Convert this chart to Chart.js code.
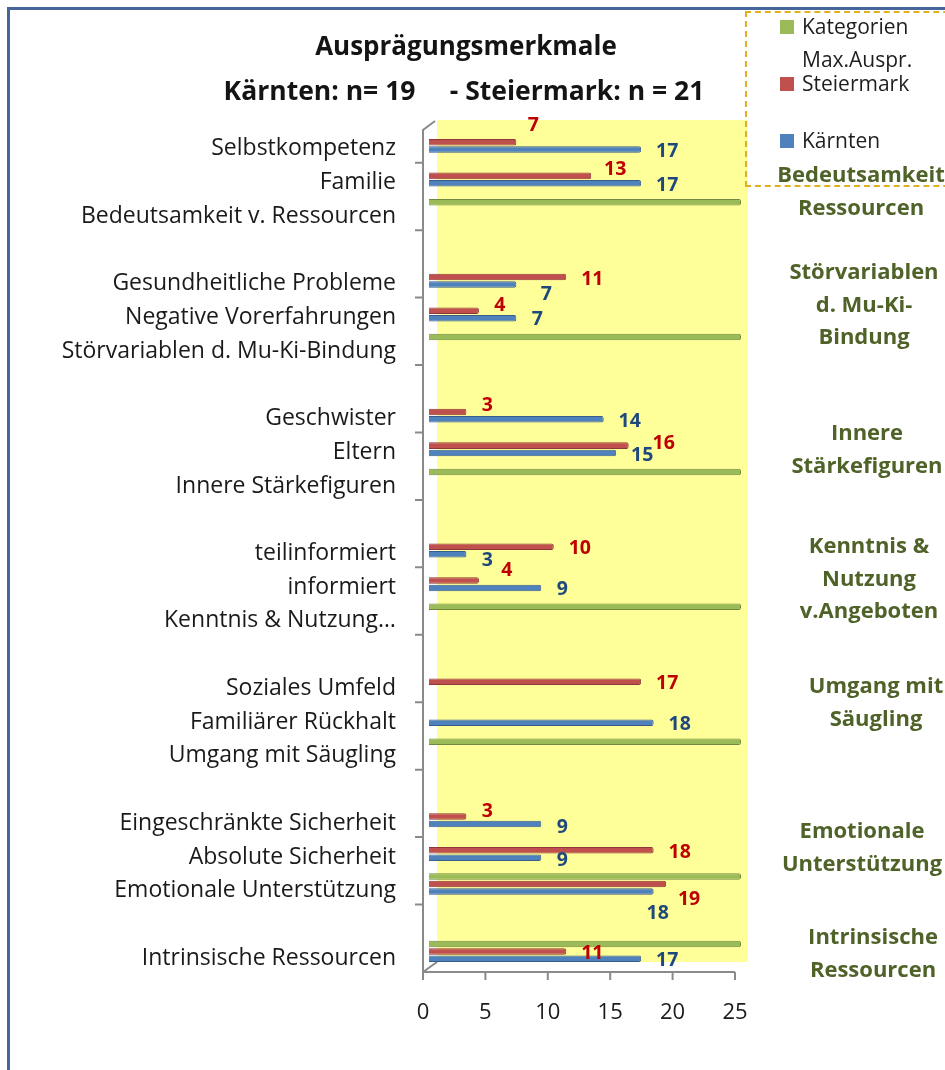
<!DOCTYPE html>
<html>
<head>
<meta charset="utf-8">
<script src="https://cdn.jsdelivr.net/npm/chart.js@4.4.1/dist/chart.umd.min.js"></script>
<style>
  body { margin: 0; background: #fff; font-family: 'Open Sans', sans-serif; }
  #wrap { position: relative; width: 945px; height: 1070px; overflow: hidden; background: #fff; }
  #frame { position: absolute; left: 7px; top: 7px; width: 960px; height: 1090px; border-top: 3px solid #46659a; border-left: 3px solid #46659a; }
  #chart01 { position: absolute; left: 0; top: 0; }
  #legend { position: absolute; left: 745px; top: 11px; width: 220px; height: 172px; border: 2px dashed #e0b020; }
  .legItem { position: absolute; left: 0; line-height: 33px; font-size: 21px; color: #1e1e1e; }
  .legBox { position: absolute; left: 33px; top: 10px; width: 14px; height: 14px; }
  .legText { position: absolute; left: 55px; top: 0; width: 125px; }
</style>
</head>
<body>
<div id="wrap">
  <div id="frame"></div>
  <canvas id="chart01" width="945" height="1070"></canvas>
  <div id="legend"></div>
</div>
<script>
// categories from top to bottom, '' = empty spacer row
const categories = [
    'Selbstkompetenz', 'Familie', 'Bedeutsamkeit v. Ressourcen', '',
    'Gesundheitliche Probleme', 'Negative Vorerfahrungen', 'Störvariablen d. Mu-Ki-Bindung', '',
    'Geschwister', 'Eltern', 'Innere Stärkefiguren', '',
    'teilinformiert', 'informiert', 'Kenntnis & Nutzung…', '',
    'Soziales Umfeld', 'Familiärer Rückhalt', 'Umgang mit Säugling', '',
    'Eingeschränkte Sicherheit', 'Absolute Sicherheit', 'Emotionale Unterstützung', '',
    'Intrinsische Ressourcen'
];
const maxAuspr = [
    null, null, 25, null,
    null, null, 25, null,
    null, null, 25, null,
    null, null, 25, null,
    null, null, 25, null,
    null, null, 25, null,
    25
];
const steiermark = [
    7, 13, null, null,
    11, 4, null, null,
    3, 16, null, null,
    10, 4, null, null,
    17, null, null, null,
    3, 18, 19, null,
    11
];
const kaernten = [
    17, 17, null, null,
    7, 7, null, null,
    14, 15, null, null,
    3, 9, null, null,
    null, 18, null, null,
    9, 9, 18, null,
    17
];
const xTicks = [0, 5, 10, 15, 20, 25];

const titleLines = ['Ausprägungsmerkmale', 'Kärnten: n= 19     - Steiermark: n = 21'];

// text boxes on the right side
const groupNotes = [
    { lines: ['Bedeutsamkeit', 'Ressourcen'], x: 861, y: 176 },
    { lines: ['Störvariablen', 'd. Mu-Ki-', 'Bindung'], x: 864, y: 273 },
    { lines: ['Innere', 'Stärkefiguren'], x: 867, y: 434 },
    { lines: ['Kenntnis &', 'Nutzung', 'v.Angeboten'], x: 869, y: 547 },
    { lines: ['Umgang mit', 'Säugling'], x: 876, y: 687 },
    { lines: ['Emotionale', 'Unterstützung'], x: 862, y: 832 },
    { lines: ['Intrinsische', 'Ressourcen'], x: 873, y: 938 }
];

// manual shift of value labels (dx, dy) from the bar end
const nudgeSt = { 0: [17, -17], 1: [24, -6], 5: [21, -5], 8: [21, -6], 9: [35, -2], 13: [28, -10], 20: [21, -5], 22: [23, 15] };
const nudgeKt = { 4: [30, 10], 5: [21, 1], 12: [21, 6], 13: [21, 2], 20: [21, 3], 21: [21, 3], 22: [4, 22] };

const FONT = "'Open Sans', sans-serif";

const wallPlugin = {
    id: 'wall',
    beforeDatasetsDraw(chart) {
        const { ctx, chartArea: a, scales: { x, y } } = chart;
        ctx.save();
        ctx.fillStyle = '#ffff99';
        ctx.fillRect(a.left + 8, a.top - 9, a.right - a.left - 1, a.bottom - a.top - 1);

        const x0 = x.getPixelForValue(0) - 6;
        const x1 = x.getPixelForValue(25) - 6;
        ctx.strokeStyle = '#8a8a8a';
        ctx.lineWidth = 2;
        ctx.beginPath();
        ctx.moveTo(x0 + 12, a.top - 8);
        ctx.lineTo(x0, a.top + 1);
        ctx.lineTo(x0, a.bottom);
        ctx.lineTo(x1, a.bottom);
        ctx.moveTo(x0, a.bottom);
        ctx.lineTo(x0 + 14, a.bottom - 10);
        xTicks.forEach(v => {
            const px = x.getPixelForValue(v) - 6;
            ctx.moveTo(px, a.bottom);
            ctx.lineTo(px, a.bottom + 8);
        });
        for (let i = 0; i < categories.length - 1; i += 2) {
            const py = (y.getPixelForValue(i) + y.getPixelForValue(i + 1)) / 2;
            ctx.moveTo(x0 - 8, py);
            ctx.lineTo(x0, py);
        }
        ctx.stroke();
        ctx.restore();
    }
};

const labelPlugin = {
    id: 'valueLabels',
    afterDatasetsDraw(chart) {
        const ctx = chart.ctx;
        ctx.save();
        ctx.font = 'bold 19.5px ' + FONT;
        ctx.textAlign = 'center';
        ctx.textBaseline = 'middle';
        chart.data.datasets.forEach((ds, i) => {
            if (!ds.valueColor) return;
            const meta = chart.getDatasetMeta(i);
            ds.data.forEach((v, j) => {
                if (v === null) return;
                const bar = meta.data[j];
                const n = ds.nudge[j] || [26, 2];
                ctx.fillStyle = ds.valueColor;
                ctx.fillText(v, bar.x + n[0], bar.y + n[1]);
            });
        });
        ctx.restore();
    },
    afterDraw(chart) {
        const ctx = chart.ctx;
        ctx.save();
        ctx.textAlign = 'center';
        ctx.textBaseline = 'middle';
        ctx.fillStyle = '#141414';
        ctx.font = 'bold 26px ' + FONT;
        ctx.fillText(titleLines[0], 466, 48);
        ctx.font = 'bold 26.5px ' + FONT;
        ctx.fillText(titleLines[1], 464, 92);

        ctx.fillStyle = '#4f6228';
        ctx.font = 'bold 22px ' + FONT;
        groupNotes.forEach(g => {
            g.lines.forEach((t, k) => ctx.fillText(t, g.x, g.y + k * 32.5));
        });
        ctx.restore();
    }
};

function fillLegend(chart) {
    legend.innerHTML = '';
    chart.data.datasets.forEach((ds, i) => {
        if (!ds.label) return;
        const item = document.createElement('div');
        item.className = 'legItem';
        item.style.top = (57 * legend.children.length - 3) + 'px';
        item.innerHTML = `<span class="legBox" style="background:${ds.backgroundColor}"></span><span class="legText">${ds.label}</span>`;
        legend.appendChild(item);
    });
}

const ctx01 = document.getElementById('chart01');
const mainChart = new Chart(ctx01, {
    type: 'bar',
    data: {
        labels: categories,
        datasets: [
            { label: 'Kategorien Max.Auspr.', data: maxAuspr, backgroundColor: '#9bbb59', borderColor: '#71893f', borderWidth: 1, borderRadius: 2 },
            { label: 'Steiermark', data: steiermark, backgroundColor: '#c0504d', borderColor: '#8c3836', borderWidth: 1, borderRadius: 2, valueColor: '#c00000', nudge: nudgeSt },
            { label: 'Kärnten', data: kaernten, backgroundColor: '#4f81bd', borderColor: '#385d8a', borderWidth: 1, borderRadius: 2, valueColor: '#1f497d', nudge: nudgeKt },
            { label: '', data: categories.map(() => null) }
        ]
    },
    options: {
        indexAxis: 'y',
        responsive: false,
        animation: false,
        layout: { padding: { left: 10, right: 204, top: 129, bottom: 38 } },
        datasets: { bar: { categoryPercentage: 0.88, barPercentage: 0.88 } },
        plugins: { legend: { display: false }, tooltip: { enabled: false } },
        scales: {
            x: {
                min: 0,
                max: 25,
                ticks: { stepSize: 5, padding: 28, labelOffset: -6, color: '#1a1a1a', font: { family: FONT, size: 22 } },
                grid: { display: false, drawTicks: false },
                border: { display: false },
                afterFit: s => { s.height = 60; }
            },
            y: {
                ticks: { autoSkip: false, padding: 33, labelOffset: 3, color: '#1a1a1a', font: { family: FONT, size: 23 } },
                grid: { display: false, drawTicks: false },
                border: { display: false },
                afterFit: s => { s.width = 419; }
            }
        }
    },
    plugins: [wallPlugin, labelPlugin]
});

fillLegend(mainChart);
</script>
</body>
</html>
